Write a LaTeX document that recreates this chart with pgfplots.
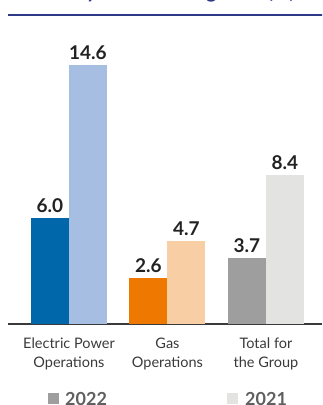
\documentclass[border=0pt]{standalone}
\usepackage{fontspec}
\setmainfont{Lato}
\usepackage{pgfplots}
\pgfplotsset{compat=1.18}
\definecolor{elec22}{HTML}{0068AA}
\definecolor{elec21}{HTML}{A6BEE2}
\definecolor{gas22}{HTML}{EF7800}
\definecolor{gas21}{HTML}{F8CFA4}
\definecolor{tot22}{HTML}{9E9E9E}
\definecolor{tot21}{HTML}{E3E3E1}
\definecolor{navy}{HTML}{2E3A87}
\definecolor{valtext}{HTML}{222222}
\definecolor{cattext}{HTML}{3A3A3A}
\definecolor{legtext}{HTML}{5F5F5F}
\begin{document}
\begin{tikzpicture}
\useasboundingbox (0,0) rectangle (322pt,405pt);
\clip (0,0) rectangle (322pt,405pt);
% heading (sits above the frame) and rule
\node[anchor=base west, inner sep=0pt, text=navy, font=\bfseries\fontsize{20}{20}\selectfont] at (30pt,406pt) {ROE by Business Segment (\%)};
\draw[navy, line width=1.5pt] (8pt,390pt) -- (330pt,390pt);
\begin{axis}[
  at={(8pt,81pt)}, anchor=south west,
  scale only axis, width=314pt, height=283.8pt,
  xmin=-0.619, xmax=2.569, ymin=0, ymax=16,
  axis x line*=bottom, hide y axis,
  x axis line style={-, color=cattext, line width=1pt},
  xtick=\empty,
  ybar, bar width=38pt,
  /pgf/number format/assume math mode=true,
  nodes near coords={\pgfmathprintnumber[fixed,fixed zerofill,precision=1]{\pgfplotspointmeta}},
  nodes near coords style={font=\bfseries\fontsize{19}{19}\selectfont, text=valtext, anchor=base, yshift=5.5pt, inner sep=0pt},
  clip=false,
]
\addplot[fill=elec22, draw=none, bar shift=-19pt] coordinates {(0,6.0)};
\addplot[fill=elec21, draw=none, bar shift=19pt] coordinates {(0,14.6)};
\addplot[fill=gas22, draw=none, bar shift=-19pt] coordinates {(1,2.6)};
\addplot[fill=gas21, draw=none, bar shift=19pt] coordinates {(1,4.7)};
\addplot[fill=tot22, draw=none, bar shift=-19pt] coordinates {(2,3.7)};
\addplot[fill=tot21, draw=none, bar shift=19pt] coordinates {(2,8.4)};
% category names, two lines each
\begin{scope}[every node/.style={anchor=base, inner sep=0pt, text=cattext, font=\fontsize{14.5}{14.5}\selectfont}]
\node[yshift=-24pt] at (axis cs:0,0) {Electric Power};
\node[yshift=-43pt] at (axis cs:0,0) {Operations};
\node[yshift=-24pt] at (axis cs:1,0) {Gas};
\node[yshift=-43pt] at (axis cs:1,0) {Operations};
\node[yshift=-24pt] at (axis cs:2,0) {Total for};
\node[yshift=-43pt] at (axis cs:2,0) {the Group};
\end{scope}
\end{axis}
% legend
\fill[tot22] (48pt,1pt) rectangle (59pt,12pt);
\node[anchor=base west, inner sep=0pt, text=legtext, font=\bfseries\fontsize{18}{18}\selectfont] at (65pt,-0.5pt) {2022};
\fill[tot21] (227pt,1pt) rectangle (238pt,12pt);
\node[anchor=base west, inner sep=0pt, text=legtext, font=\bfseries\fontsize{18}{18}\selectfont] at (245pt,-0.5pt) {2021};
\end{tikzpicture}
\end{document}
